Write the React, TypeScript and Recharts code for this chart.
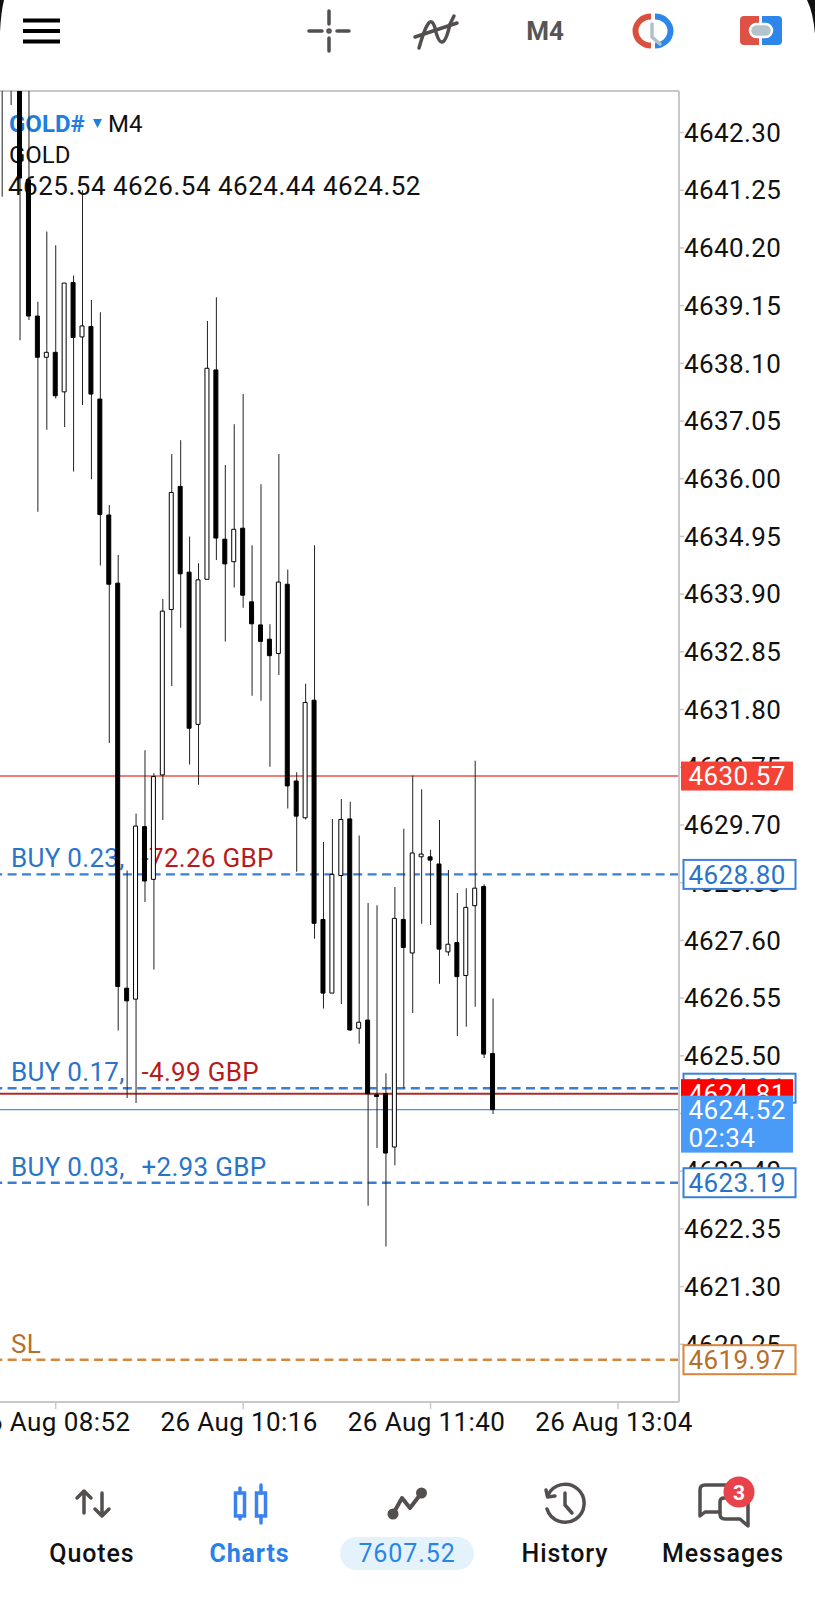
import { Bar, Cell, ComposedChart, ReferenceLine, XAxis, YAxis } from "recharts";

// candle index 0 is the 08:28 bar, one candle = 4 minutes
const opens = [4644.5, 4644.6, 4645.0, 4641.44, 4638.96, 4638.21, 4638.30, 4637.58, 4639.57, 4638.58, 4638.77, 4637.45, 4635.34, 4634.10, 4626.73, 4626.53, 4629.67, 4628.71, 4630.61, 4633.62, 4635.86, 4634.30, 4631.53, 4634.17, 4637.98, 4634.90, 4634.49, 4635.10, 4633.76, 4633.34, 4633.08, 4632.82, 4634.08, 4630.50, 4629.83, 4631.97, 4627.98, 4626.64, 4628.78, 4629.81, 4626.00, 4626.15, 4624.79, 4624.81, 4623.84, 4627.98, 4627.37, 4629.12, 4629.12, 4628.99, 4627.39, 4627.56, 4626.96, 4628.23, 4628.58, 4625.54];
const highs = [4645.5, 4645.5, 4646.0, 4643.5, 4639.22, 4640.50, 4640.25, 4639.56, 4639.70, 4641.25, 4639.25, 4639.03, 4635.52, 4634.61, 4628.87, 4629.91, 4631.06, 4630.64, 4633.81, 4636.45, 4636.70, 4634.95, 4634.46, 4638.87, 4639.30, 4636.25, 4636.99, 4637.54, 4634.79, 4635.90, 4633.35, 4636.45, 4634.35, 4630.66, 4632.27, 4634.79, 4629.39, 4629.81, 4630.17, 4630.12, 4629.51, 4628.28, 4628.24, 4625.18, 4628.57, 4629.63, 4630.60, 4630.35, 4629.25, 4629.79, 4628.88, 4628.46, 4628.55, 4630.87, 4628.62, 4626.54];
const lows = [4641.13, 4642.80, 4638.52, 4638.89, 4635.40, 4636.89, 4637.46, 4636.94, 4636.13, 4637.34, 4635.99, 4634.42, 4631.19, 4625.96, 4624.73, 4624.64, 4628.30, 4627.07, 4629.79, 4632.23, 4633.29, 4630.80, 4630.43, 4634.17, 4634.52, 4633.04, 4634.02, 4633.65, 4632.05, 4631.96, 4630.76, 4632.43, 4630.00, 4628.85, 4629.80, 4627.63, 4626.36, 4626.64, 4626.44, 4625.95, 4625.72, 4622.77, 4623.82, 4622.03, 4623.51, 4624.91, 4626.28, 4627.90, 4627.88, 4626.81, 4627.32, 4625.86, 4626.03, 4626.39, 4625.46, 4624.44];
const closes = [4644.0, 4644.0, 4641.47, 4638.96, 4638.21, 4638.30, 4637.51, 4639.56, 4638.57, 4638.78, 4637.54, 4635.35, 4634.08, 4626.76, 4626.50, 4629.68, 4628.68, 4630.58, 4633.59, 4635.75, 4634.27, 4631.46, 4634.16, 4638.01, 4634.92, 4634.45, 4635.08, 4633.88, 4633.36, 4633.04, 4632.78, 4634.12, 4630.41, 4629.86, 4631.93, 4627.91, 4626.64, 4628.80, 4629.80, 4625.97, 4626.11, 4624.81, 4624.76, 4623.73, 4628.00, 4627.47, 4629.19, 4629.17, 4629.06, 4627.44, 4627.53, 4626.94, 4628.20, 4628.55, 4625.53, 4624.52];

const priceTicks = [4642.3, 4641.25, 4640.2, 4639.15, 4638.1, 4637.05, 4636.0, 4634.95, 4633.9, 4632.85, 4631.8, 4630.75, 4629.7, 4628.65, 4627.6, 4626.55, 4625.5, 4624.45, 4623.4, 4622.35, 4621.3, 4620.25];
const timeTicks = [6, 27, 48, 69];
const timeLabels = ["26 Aug 08:52", "26 Aug 10:16", "26 Aug 11:40", "26 Aug 13:04"];

const candles = opens.map((open, i) => ({
  index: i,
  open,
  close: closes[i],
  wick: [lows[i], highs[i]],
  body: [Math.min(open, closes[i]), Math.max(open, closes[i])],
}));

const priceDomain = [4619.2, 4643.055];
const indexDomain = [-0.24, 75.84];

const font = "Roboto, sans-serif";
const BLUE = "#2a74c8";
const DARK_RED = "#b71c1c";
const ORANGE = "#b5702c";
const ICON = "#544f4f";

const tradeLabel = (parts: { text: string; color: string; x: number }[]) => (props: any) => {
  const y = props.viewBox.y - 7;
  return (
    <text y={y} fontFamily={font} fontSize={26} letterSpacing={0.3}>
      {parts.map((p) => (
        <tspan key={p.text} x={p.x} fill={p.color}>
          {p.text}
        </tspan>
      ))}
    </text>
  );
};

const priceTag = (text: string, fill: string, stroke: string, color: string, x: number) => (props: any) => {
  const y = props.viewBox.y;
  return (
    <g>
      <rect x={x} y={y - 14.5} width={112} height={29} fill={fill} stroke={stroke} strokeWidth={stroke === "none" ? 0 : 2} />
      <text x={688.5} y={y + 9.3} fontFamily={font} fontSize={26} letterSpacing={0.4} fill={color}>
        {text}
      </text>
    </g>
  );
};

const bidTag = (props: any) => {
  const y = props.viewBox.y;
  return (
    <g>
      <rect x={681} y={y - 14} width={112} height={57} fill="#4a9bf7" />
      <text x={688.5} y={y + 9.3} fontFamily={font} fontSize={26} letterSpacing={0.4} fill="#fff">
        4624.52
      </text>
      <text x={688.5} y={y + 37.5} fontFamily={font} fontSize={26} letterSpacing={0.4} fill="#fff">
        02:34
      </text>
    </g>
  );
};

const TopBar = () => (
  <svg width={815} height={70} style={{ position: "absolute", left: 0, top: 0, zIndex: 2 }}>
    <path d="M0 0 H4 Q1 12 0 32 Z" fill="#111" />
    <path d="M815 34 Q813 12 807 0 H815 Z" fill="#111" />
    <g stroke="#000" strokeWidth={4}>
      <path d="M23 20.5 H60 M23 31 H60 M23 41.5 H60" />
    </g>
    <g stroke={ICON} strokeWidth={3.5} strokeLinecap="round">
      <path d="M309 31 H322 M337 31 H349 M329 11 V24 M329 38 V51" />
      <circle cx={329} cy={31} r={1} fill={ICON} />
    </g>
    <g stroke={ICON} strokeWidth={3.5} strokeLinecap="round" fill="none">
      <path d="M415 37 L457 23" />
      <path d="M419 48 Q424 30 428 24 Q432 18 435 28 Q438 42 442 42 Q446 42 450 24 L454 16" />
    </g>
    <text x={545} y={40} textAnchor="middle" fontFamily={font} fontWeight={700} fontSize={26} fill="#555">
      M4
    </text>
    <path d="M651 13.5 A18.5 17.5 0 0 0 651 48.5 V42.5 A12.5 11.5 0 0 1 651 19.5 Z" fill="#d9503f" />
    <path d="M655 13.5 A18.5 17.5 0 0 1 655 48.5 V42.5 A12.5 11.5 0 0 0 655 19.5 Z" fill="#2f86ea" />
    <path d="M652 24 V37 L660 44" stroke="#b0c0cc" strokeWidth={3.5} fill="none" strokeLinecap="round" />
    <path d="M744 16 H759 V45 H744 Q740 45 740 41 V20 Q740 16 744 16 Z" fill="#de5245" />
    <path d="M762 16 H778 Q782 16 782 20 V41 Q782 45 778 45 H762 Z" fill="#2f86ea" />
    <rect x={750} y={24} width={22} height={13} rx={6.5} fill="#b4c4cc" stroke="#fff" strokeWidth={2.5} />
  </svg>
);

const SymbolInfo = () => (
  <div style={{ position: "absolute", left: 0, top: 0, fontFamily: font, color: "#111", whiteSpace: "nowrap" }}>
    <div style={{ position: "absolute", left: 9, top: 110, fontSize: 24, lineHeight: "28px" }}>
      <span style={{ color: "#1e7fe0", fontWeight: 700 }}>GOLD#</span>
    </div>
    <svg width={9} height={9} style={{ position: "absolute", left: 93, top: 119 }}>
      <path d="M0 0 H9 L4.5 9 Z" fill="#1e7fe0" />
    </svg>
    <div style={{ position: "absolute", left: 108, top: 110, fontSize: 24, lineHeight: "28px" }}>M4</div>
    <div style={{ position: "absolute", left: 9, top: 141, fontSize: 24, lineHeight: "28px" }}>GOLD</div>
    <div style={{ position: "absolute", left: 8, top: 172, fontSize: 26, lineHeight: "28px", letterSpacing: 0.5 }}>
      4625.54 4626.54 4624.44 4624.52
    </div>
  </div>
);

const NavBar = () => (
  <svg width={815} height={140} viewBox="0 1460 815 140" style={{ position: "absolute", left: 0, top: 1460, zIndex: 2 }}>
    <g fill="none" stroke={ICON} strokeWidth={3.5} strokeLinecap="round" strokeLinejoin="round">
      <path d="M84 1513 V1491 M77 1498 L84 1491 L91 1498" />
      <path d="M102 1493 V1516 M95 1509 L102 1516 L109 1509" />
      <g transform="translate(-4 0)">
        <path d="M397 1514 L406 1498 L414 1508 L425.5 1493" strokeWidth={4} />
        <path d="M552 1495 A19 19 0 1 1 551 1509" />
        <path d="M550 1490 L551.5 1497 L559 1496" />
        <path d="M569 1493 V1505 L576 1513" />
      </g>
      <g transform="translate(-6 0)">
        <path d="M737 1485 H711 Q706 1485 706 1490 V1516 L711 1512 H726" />
        <path d="M730 1498 H749 Q754 1498 754 1503 V1526 L746 1519 H731 Q726 1519 726 1514 V1502 Q726 1498 730 1498 Z" />
      </g>
    </g>
    <circle cx={393} cy={1514} r={5.5} fill={ICON} />
    <circle cx={421.5} cy={1493} r={5.5} fill={ICON} />
    <g fill="none" stroke="#3b82f0" strokeWidth={3.5} transform="translate(-1 0)">
      <path d="M241 1488 V1493 M241 1516 V1519 M262 1485 V1493 M262 1516 V1523" strokeLinecap="round" />
      <rect x={236.5} y={1493} width={9} height={23} />
      <rect x={257.5} y={1493} width={9} height={23} />
    </g>
    <circle cx={739} cy={1492} r={15.5} fill="#e8434a" />
    <text x={739} y={1500} textAnchor="middle" fontFamily={font} fontWeight={700} fontSize={21} fill="#fff">
      3
    </text>
    <rect x={340} y={1537} width={134} height={33} rx={16.5} fill="#e3f2fb" />
    <g fontFamily={font} fontSize={25} textAnchor="middle" fill="#111" letterSpacing={0.9} fontWeight={500}>
      <text x={92} y={1562}>Quotes</text>
      <text x={249.5} y={1562} fill="#2a7fe8" fontWeight={700}>Charts</text>
      <text x={407} y={1562} fill="#2a86e0" fontWeight={400}>7607.52</text>
      <text x={565} y={1562}>History</text>
      <text x={723} y={1562}>Messages</text>
    </g>
  </svg>
);

export default function App() {
  return (
    <div style={{ position: "relative", width: 815, height: 1600, overflow: "hidden" }}>
      <style>{"body{margin:0;background:#fff}"}</style>
      <SymbolInfo />
      <div style={{ position: "absolute", left: 0, top: 0, zIndex: 1 }}>
        <ComposedChart width={815} height={1600} data={candles} margin={{ top: 91, right: 0, bottom: 158, left: 0 }}>
          <XAxis
            xAxisId="wick"
            dataKey="index"
            type="number"
            domain={indexDomain}
            allowDataOverflow
            ticks={timeTicks}
            interval={0}
            tickFormatter={(v: number) => timeLabels[timeTicks.indexOf(v)]}
            height={40}
            tick={{ fontFamily: font, fontSize: 26, fill: "#111", letterSpacing: 0.4, dx: -4 }}
            tickSize={7}
            tickMargin={4}
            stroke="#c8c8c8"
            axisLine={{ stroke: "#c8c8c8", strokeWidth: 2 }}
            tickLine={{ stroke: "#c8c8c8", strokeWidth: 1.5 }}
          />
          <XAxis xAxisId="body" dataKey="index" type="number" domain={indexDomain} allowDataOverflow hide height={0} />
          <YAxis
            yAxisId="price"
            orientation="right"
            type="number"
            domain={priceDomain}
            allowDataOverflow
            ticks={priceTicks}
            interval={0}
            width={136}
            tickFormatter={(v: number) => v.toFixed(2)}
            tick={{ fontFamily: font, fontSize: 26, fill: "#111", letterSpacing: 0.4 }}
            tickSize={5}
            tickMargin={0}
            axisLine={{ stroke: "#c8c8c8", strokeWidth: 2 }}
            tickLine={{ stroke: "#c8c8c8", strokeWidth: 1.5 }}
          />

          <ReferenceLine yAxisId="price" xAxisId="wick" y={priceDomain[1]} stroke="#c8c8c8" strokeWidth={2} zIndex={50} />
          <ReferenceLine yAxisId="price" xAxisId="wick" y={4630.59} stroke="#e8554a" strokeWidth={1.5} zIndex={50} />
          <ReferenceLine
            yAxisId="price"
            xAxisId="wick"
            y={4628.8}
            stroke="#3b7fd4"
            strokeWidth={2.4}
            strokeDasharray="9 5.4"
            zIndex={50}
            label={tradeLabel([
              { text: "BUY 0.23,", color: BLUE, x: 11 },
              { text: "-72.26 GBP", color: DARK_RED, x: 141.5 },
            ])}
          />
          <ReferenceLine
            yAxisId="price"
            xAxisId="wick"
            y={4624.91}
            stroke="#3b7fd4"
            strokeWidth={2.4}
            strokeDasharray="9 5.4"
            zIndex={50}
            label={tradeLabel([
              { text: "BUY 0.17,", color: BLUE, x: 11 },
              { text: "-4.99 GBP", color: DARK_RED, x: 141.5 },
            ])}
          />
          <ReferenceLine yAxisId="price" xAxisId="wick" y={4624.81} stroke="#b02a2a" strokeWidth={2} zIndex={50} />
          <ReferenceLine yAxisId="price" xAxisId="wick" y={4624.52} stroke="#4a94e0" strokeWidth={1.4} zIndex={50} />
          <ReferenceLine
            yAxisId="price"
            xAxisId="wick"
            y={4623.19}
            stroke="#3b7fd4"
            strokeWidth={2.4}
            strokeDasharray="9 5.4"
            zIndex={50}
            label={tradeLabel([
              { text: "BUY 0.03,", color: BLUE, x: 11 },
              { text: "+2.93 GBP", color: BLUE, x: 141.5 },
            ])}
          />
          <ReferenceLine
            yAxisId="price"
            xAxisId="wick"
            y={4619.97}
            stroke="#d9853b"
            strokeWidth={2.4}
            strokeDasharray="9 5.4"
            zIndex={50}
            label={tradeLabel([{ text: "SL", color: ORANGE, x: 11 }])}
          />

          <Bar yAxisId="price" xAxisId="wick" dataKey="wick" barSize={1} fill="#222" isAnimationActive={false} />
          <Bar yAxisId="price" xAxisId="body" dataKey="body" barSize={4} strokeWidth={1} stroke="#000" isAnimationActive={false}>
            {candles.map((c) => (
              <Cell key={c.index} fill={c.close >= c.open ? "#fff" : "#000"} stroke="#000" />
            ))}
          </Bar>

          <ReferenceLine yAxisId="price" xAxisId="wick" y={4630.59} stroke="none" zIndex={3000} label={priceTag("4630.57", "#f44336", "none", "#fff", 681)} />
          <ReferenceLine yAxisId="price" xAxisId="wick" y={4628.8} stroke="none" zIndex={3000} label={priceTag("4628.80", "#fff", "#3a80d8", BLUE, 683.5)} />
          <ReferenceLine yAxisId="price" xAxisId="wick" y={4624.91} stroke="none" zIndex={3000} label={priceTag("4624.91", "#fff", "#3a80d8", BLUE, 683.5)} />
          <ReferenceLine yAxisId="price" xAxisId="wick" y={4624.81} stroke="none" zIndex={3000} label={priceTag("4624.81", "#ff0000", "none", "#fff", 681)} />
          <ReferenceLine yAxisId="price" xAxisId="wick" y={4624.52} stroke="none" zIndex={3000} label={bidTag} />
          <ReferenceLine yAxisId="price" xAxisId="wick" y={4623.19} stroke="none" zIndex={3000} label={priceTag("4623.19", "#fff", "#3a80d8", BLUE, 683.5)} />
          <ReferenceLine yAxisId="price" xAxisId="wick" y={4619.97} stroke="none" zIndex={3000} label={priceTag("4619.97", "#fff", "#d9853b", ORANGE, 683.5)} />
        </ComposedChart>
      </div>
      <TopBar />
      <NavBar />
    </div>
  );
}
